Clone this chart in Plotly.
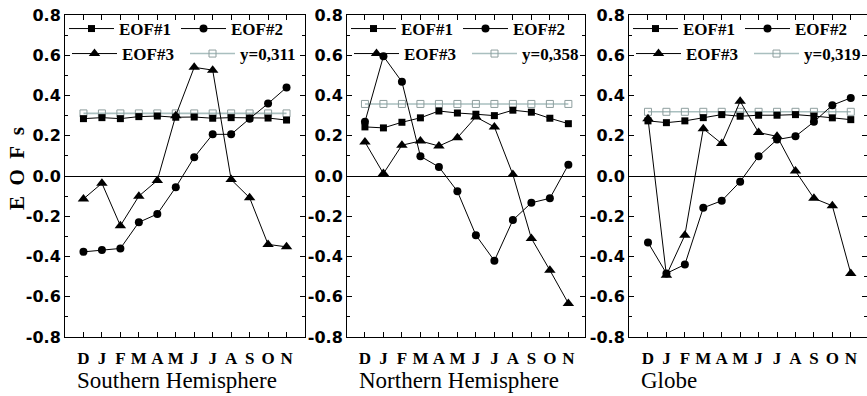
import plotly.graph_objects as go

months = ["D", "J", "F", "M", "A", "M", "J", "J", "A", "S", "O", "N"]
month_pos = list(range(12))

y_tick_vals = [-0.8, -0.6, -0.4, -0.2, 0.0, 0.2, 0.4, 0.6, 0.8]
y_tick_text = ["-0.8", "-0.6", "-0.4", "-0.2", "0.0", "0.2", "0.4", "0.6", "0.8"]

panel_titles = ["Southern Hemisphere", "Northern Hemisphere", "Globe"]
ref_labels = ["y=0,311", "y=0,358", "y=0,319"]

# Southern Hemisphere
sh_eof1 = [0.285, 0.290, 0.285, 0.295, 0.298, 0.292, 0.293, 0.287, 0.290, 0.288, 0.288, 0.278]
sh_eof2 = [-0.377, -0.368, -0.360, -0.230, -0.189, -0.056, 0.093, 0.207, 0.207, 0.285, 0.360, 0.440]
sh_eof3 = [-0.114, -0.036, -0.247, -0.100, -0.022, 0.300, 0.540, 0.526, -0.018, -0.108, -0.340, -0.352]
sh_ref = [0.311, 0.311, 0.311, 0.311, 0.311, 0.311, 0.311, 0.311, 0.311, 0.311, 0.311, 0.311]

# Northern Hemisphere
nh_eof1 = [0.244, 0.239, 0.267, 0.289, 0.323, 0.313, 0.307, 0.300, 0.327, 0.317, 0.287, 0.260]
nh_eof2 = [0.269, 0.595, 0.468, 0.098, 0.045, -0.076, -0.294, -0.421, -0.219, -0.133, -0.111, 0.056]
nh_eof3 = [0.169, 0.012, 0.153, 0.174, 0.149, 0.190, 0.293, 0.244, 0.007, -0.310, -0.468, -0.633]
nh_ref = [0.358, 0.358, 0.358, 0.358, 0.358, 0.358, 0.358, 0.358, 0.358, 0.358, 0.358, 0.358]

# Globe
gl_eof1 = [0.274, 0.265, 0.274, 0.290, 0.305, 0.297, 0.302, 0.302, 0.305, 0.298, 0.289, 0.280]
gl_eof2 = [-0.330, -0.484, -0.440, -0.158, -0.123, -0.028, 0.098, 0.181, 0.197, 0.269, 0.352, 0.388]
gl_eof3 = [0.285, -0.493, -0.294, 0.235, 0.161, 0.371, 0.216, 0.197, 0.025, -0.111, -0.148, -0.484]
gl_ref = [0.319, 0.319, 0.319, 0.319, 0.319, 0.319, 0.319, 0.319, 0.319, 0.319, 0.319, 0.319]

panels = [
    (sh_eof1, sh_eof2, sh_eof3, sh_ref),
    (nh_eof1, nh_eof2, nh_eof3, nh_ref),
    (gl_eof1, gl_eof2, gl_eof3, gl_ref),
]

W, H = 867, 396
ML, MR, MT, MB = 65, 0, 15, 59
PW = W - ML - MR
PH = H - MT - MB

panel_px = [(65, 305), (347, 585), (629, 867)]
domains = [[(a - ML) / PW, (b - ML) / PW] for a, b in panel_px]
x_ranges = [[-1, 12], [-0.97, 11.9], [-1.03, 11.88]]

# legend slot offsets (px from panel left, px from top): EOF#1, EOF#2, EOF#3, ref
legend_slots = [(-1, 29), (111, 29), (2, 54), (120, 54)]

serif = "Liberation Serif"
sans = "DejaVu Sans"
ref_line = "#a9bfbf"
ref_mark = "#8e9e9e"

fig = go.Figure()
layout = {}
annotations = []

for i, (e1, e2, e3, ref) in enumerate(panels):
    n = i + 1
    xa = "x" if n == 1 else f"x{n}"
    ya = "y" if n == 1 else f"y{n}"
    lgs = []
    for k in range(4):
        idx = 4 * i + k + 1
        lgs.append("legend" if idx == 1 else f"legend{idx}")

    specs = [
        (e1, "EOF#1", dict(color="black", width=1), dict(symbol="square", size=7, color="black"), 0),
        (e2, "EOF#2", dict(color="black", width=1), dict(symbol="circle", size=8, color="black"), 0),
        (e3, "EOF#3", dict(color="black", width=1), dict(symbol="triangle-up", size=10, color="black"), 0),
        (ref, ref_labels[i], dict(color=ref_line, width=1.6),
         dict(symbol="square-open", size=7, color=ref_mark, line=dict(width=1)), -1),
    ]
    for k, (yy, name, ln, mk, z) in enumerate(specs):
        fig.add_trace(go.Scatter(
            x=month_pos, y=yy, name=name, mode="lines+markers",
            line=ln, marker=mk, xaxis=xa, yaxis=ya, legend=lgs[k], zorder=z))
        ox, oy = legend_slots[k]
        layout[lgs[k]] = dict(
            x=(panel_px[i][0] + ox - ML) / PW, y=(PH - (oy - MT)) / PH,
            xref="paper", yref="paper", xanchor="left", yanchor="middle",
            bgcolor="rgba(0,0,0,0)", borderwidth=0, itemwidth=45,
            font=dict(family=serif, size=17, color="black", weight="bold"))

    xkey = "xaxis" if n == 1 else f"xaxis{n}"
    ykey = "yaxis" if n == 1 else f"yaxis{n}"
    layout[xkey] = dict(
        domain=domains[i], range=x_ranges[i], anchor=ya,
        tickmode="array", tickvals=month_pos, ticktext=months,
        ticks="inside", ticklen=5, tickcolor="black", tickwidth=1,
        showline=True, linecolor="black", linewidth=1, mirror="allticks",
        showgrid=False, zeroline=False, ticklabelstandoff=6,
        tickfont=dict(family=serif, size=17, color="black", weight="bold"),
    )
    layout[ykey] = dict(
        domain=[0, 1], range=[-0.8, 0.8], anchor=xa,
        tickmode="array", tickvals=y_tick_vals, ticktext=y_tick_text,
        ticks="inside", ticklen=5, tickcolor="black", tickwidth=1,
        minor=dict(dtick=0.1, ticks="inside", ticklen=3, tickcolor="black", showgrid=False),
        showline=True, linecolor="black", linewidth=1, mirror="allticks",
        showgrid=False, zeroline=True, zerolinecolor="black", zerolinewidth=1,
        tickfont=dict(family=sans, size=16, color="black", weight="bold"),
    )

    annotations.append(dict(
        text=panel_titles[i], xref="paper", yref="paper",
        x=domains[i][0], y=0, xshift=10, yshift=-43,
        xanchor="left", yanchor="middle", showarrow=False,
        font=dict(family=serif, size=23, color="black")))

annotations.append(dict(
    text="E\u00a0\u00a0O\u00a0\u00a0F\u00a0\u00a0s", xref="paper", yref="paper",
    x=0, y=(PH - (169 - MT)) / PH,
    xshift=-48, xanchor="center", yanchor="middle", textangle=-90, showarrow=False,
    font=dict(family=serif, size=21, color="black", weight="bold")))

fig.update_layout(
    width=W, height=H,
    margin=dict(l=ML, r=MR, t=MT, b=MB, pad=0, autoexpand=False),
    paper_bgcolor="white", plot_bgcolor="white",
    showlegend=True, annotations=annotations,
    **layout,
)

fig.write_html("out.html")
